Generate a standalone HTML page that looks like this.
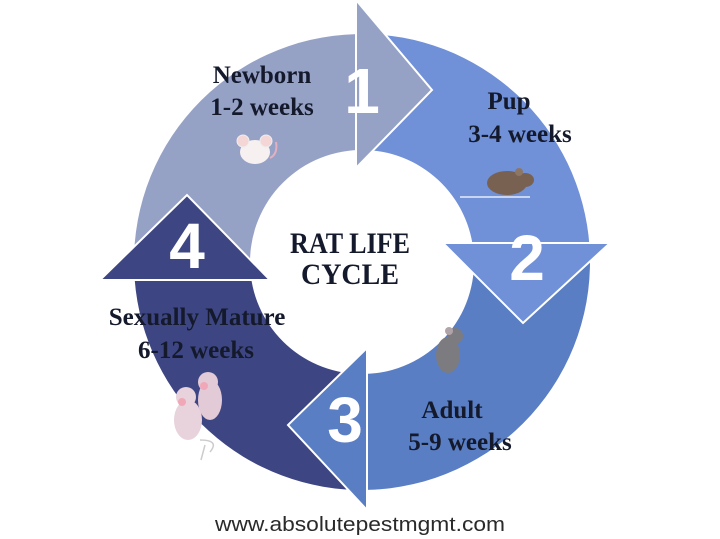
<!DOCTYPE html>
<html><head><meta charset="utf-8"><style>
html,body{margin:0;padding:0;background:#fff;}
svg{display:block;}
.lbl{font-family:"Liberation Serif",serif;font-weight:bold;font-size:25px;fill:#141a2c;text-anchor:middle;}
.num{font-family:"Liberation Sans",sans-serif;font-weight:bold;font-size:64px;fill:#fff;text-anchor:middle;}
</style></head><body>
<svg width="720" height="539" viewBox="0 0 720 539" xmlns="http://www.w3.org/2000/svg">
<rect width="720" height="539" fill="#fff"/>
<path d="M134.5 277.9 A228 228 0 0 1 356 34.1 L359.1 150 A112 112 0 0 0 250.3 269.8 Z" fill="#96a1c6"/>
<path d="M360 34 A228 228 0 0 1 589.5 246.1 L473.7 254.2 A112 112 0 0 0 361 150 Z" fill="#7090d8"/>
<path d="M589.3 244.1 A228 228 0 0 1 367.2 489.9 L364.5 374 A112 112 0 0 0 473.7 253.2 Z" fill="#5a7ec3"/>
<path d="M366 490 A228 228 0 0 1 134.7 279.9 L250.3 270.8 A112 112 0 0 0 364 374 Z" fill="#3d4683"/>
<polygon points="356,0 432,90 356,168" fill="#96a1c6" stroke="#fff" stroke-width="2"/>
<polygon points="443,243 610,243 523,323" fill="#7090d8" stroke="#fff" stroke-width="2"/>
<polygon points="367,348 288,425 367,510" fill="#5a7ec3" stroke="#fff" stroke-width="2"/>
<polygon points="100,280 187,195 270,280" fill="#3d4683" stroke="#fff" stroke-width="2"/>
<text class="num" x="362" y="113">1</text>
<text class="num" x="527" y="280">2</text>
<text class="num" x="345" y="442">3</text>
<text class="num" x="187" y="268">4</text>
<text class="lbl" x="262" y="83">Newborn</text>
<text class="lbl" x="262" y="115">1-2 weeks</text>
<text class="lbl" x="509" y="109">Pup</text>
<text class="lbl" x="520" y="142">3-4 weeks</text>
<text class="lbl" x="197" y="325">Sexually Mature</text>
<text class="lbl" x="196" y="358">6-12 weeks</text>
<text class="lbl" x="452" y="418">Adult</text>
<text class="lbl" x="460" y="450">5-9 weeks</text>
<text class="lbl" x="350" y="253" style="font-size:30px" textLength="120" lengthAdjust="spacingAndGlyphs">RAT LIFE</text>
<text class="lbl" x="350" y="284" style="font-size:30px" textLength="98" lengthAdjust="spacingAndGlyphs">CYCLE</text>
<g>
<ellipse cx="255" cy="152" rx="15" ry="12" fill="#f6f0f0"/>
<circle cx="243" cy="141" r="6" fill="#f4d6d6" stroke="#eee"/>
<circle cx="266" cy="141" r="6" fill="#f4d6d6" stroke="#eee"/>
<path d="M270 158 q8 -4 6 -16" stroke="#e3b0c0" stroke-width="2" fill="none"/>
</g>
<g>
<ellipse cx="507" cy="183" rx="20" ry="12" fill="#786150"/>
<ellipse cx="525" cy="180" rx="9" ry="7" fill="#786150"/>
<circle cx="519" cy="172" r="4" fill="#8e7664"/>
<path d="M460 197 L530 197" stroke="#e6ecf8" stroke-width="1.5"/>
</g>
<g>
<ellipse cx="448" cy="355" rx="12" ry="18" fill="#7c7c80"/>
<circle cx="455" cy="336" r="8" fill="#7c7c80"/>
<circle cx="449" cy="331" r="4" fill="#b0a4a8"/>
</g>
<g>
<ellipse cx="188" cy="420" rx="14" ry="20" fill="#e8d2dc"/>
<circle cx="186" cy="397" r="10" fill="#e8d2dc"/>
<ellipse cx="210" cy="400" rx="12" ry="20" fill="#e2cad6"/>
<circle cx="208" cy="382" r="10" fill="#e2cad6"/>
<circle cx="182" cy="402" r="4" fill="#f0a8b8"/>
<circle cx="204" cy="386" r="4" fill="#f0a8b8"/>
<path d="M200 440 q20 0 10 12 M205 445 l-4 15" stroke="#ccc" stroke-width="1.5" fill="none"/>
</g>
<text x="360" y="531" font-family="Liberation Sans, sans-serif" font-size="20" fill="#2a2a2a" text-anchor="middle" textLength="290" lengthAdjust="spacingAndGlyphs">www.absolutepestmgmt.com</text>
</svg>
</body></html>
